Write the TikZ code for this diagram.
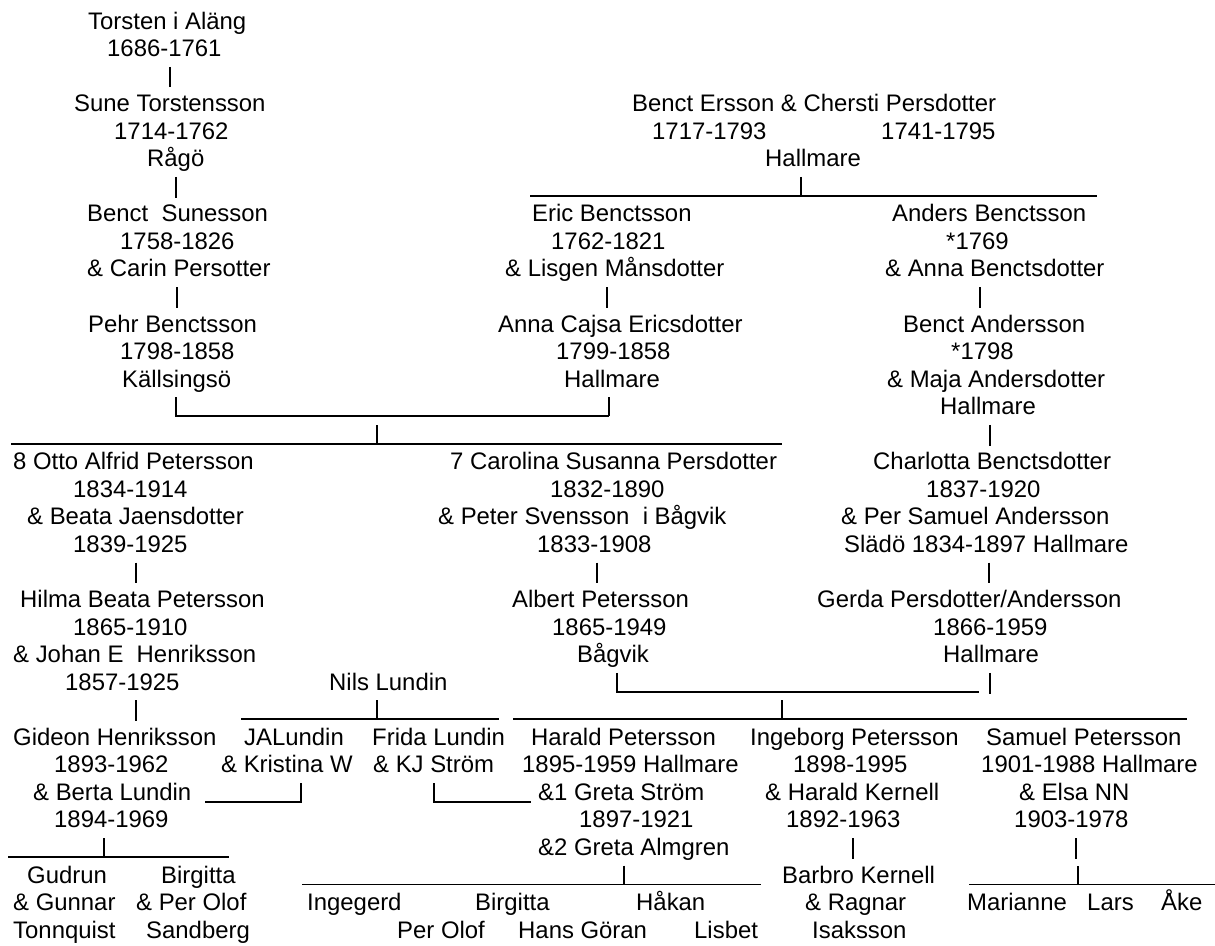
\documentclass[tikz,border=0pt]{standalone}
\usepackage{fontspec}
\setmainfont{Liberation Sans}

\begin{document}
\begin{tikzpicture}[
        x=1pt, y=-27.55pt,
        txt/.style={
            anchor=base west,
            inner sep=0pt,
            text height=17.5pt,
            text depth=5pt,
            font=\fontsize{23.9pt}{27.55pt}\selectfont
        },
        bar/.style={line width=1.8pt, shorten <=5pt, shorten >=6.5pt},
        link/.style={line width=1.8pt, shorten <=5pt},
        rule/.style={line width=1.8pt}
    ]
    \useasboundingbox[fill=white] (0,-0.0526) rectangle (1215,34.249);

    % Torsten line
    \node[txt] (torsten) at (88,1) {Torsten i Aläng};
    \node[txt] (torsten-yr) at (107,2) {1686-1761};
    \node[txt] (sune) at (74,4) {Sune Torstensson};
    \node[txt] (sune-yr) at (114,5) {1714-1762};
    \node[txt] (sune-pl) at (147,6) {Rågö};
    \node[txt] (bencts) at (87,8) {Benct~ Sunesson};
    \node[txt] (bencts-yr) at (120,9) {1758-1826};
    \node[txt] (carin) at (87,10) {\& Carin Persotter};
    \node[txt] (pehr) at (88,12) {Pehr Benctsson};
    \node[txt] (pehr-yr) at (120,13) {1798-1858};
    \node[txt] (pehr-pl) at (122,14) {Källsingsö};

    % Benct Ersson line
    \node[txt] (bencte) at (632,4) {Benct Ersson \& Chersti Persdotter};
    \node[txt] (bencte-yr) at (652,5) {1717-1793};
    \node[txt] (chersti-yr) at (881,5) {1741-1795};
    \node[txt] (bencte-pl) at (765,6) {Hallmare};
    \node[txt] (eric) at (532,8) {Eric Benctsson};
    \node[txt] (eric-yr) at (551,9) {1762-1821};
    \node[txt] (lisgen) at (505,10) {\& Lisgen Månsdotter};
    \node[txt] (cajsa) at (498,12) {Anna Cajsa Ericsdotter};
    \node[txt] (cajsa-yr) at (556,13) {1799-1858};
    \node[txt] (cajsa-pl) at (564,14) {Hallmare};
    \node[txt] (anders) at (892,8) {Anders Benctsson};
    \node[txt] (anders-yr) at (946,9) {*1769};
    \node[txt] (annab) at (885,10) {\& Anna Benctsdotter};
    \node[txt] (bencta) at (903,12) {Benct Andersson};
    \node[txt] (bencta-yr) at (951,13) {*1798};
    \node[txt] (maja) at (887,14) {\& Maja Andersdotter};
    \node[txt] (maja-pl) at (940,15) {Hallmare};

    % Row of Otto, Carolina, Charlotta
    \node[txt] (otto) at (13,17) {8 Otto Alfrid Petersson};
    \node[txt] (otto-yr) at (73,18) {1834-1914};
    \node[txt] (beata) at (27,19) {\& Beata Jaensdotter};
    \node[txt] (beata-yr) at (73,20) {1839-1925};
    \node[txt] (hilma) at (20,22) {Hilma Beata Petersson};
    \node[txt] (hilma-yr) at (73,23) {1865-1910};
    \node[txt] (johan) at (13,24) {\& Johan E~ Henriksson};
    \node[txt] (johan-yr) at (65,25) {1857-1925};
    \node[txt] (carolina) at (450,17) {7 Carolina Susanna Persdotter};
    \node[txt] (carolina-yr) at (550,18) {1832-1890};
    \node[txt] (peter) at (438,19) {\& Peter Svensson~ i Bågvik};
    \node[txt] (peter-yr) at (537,20) {1833-1908};
    \node[txt] (albert) at (512,22) {Albert Petersson};
    \node[txt] (albert-yr) at (552,23) {1865-1949};
    \node[txt] (albert-pl) at (577,24) {Bågvik};
    \node[txt] (charlotta) at (873,17) {Charlotta Benctsdotter};
    \node[txt] (charlotta-yr) at (926,18) {1837-1920};
    \node[txt] (persam) at (841,19) {\& Per Samuel Andersson};
    \node[txt] (persam-yr) at (844,20) {Slädö 1834-1897 Hallmare};
    \node[txt] (gerda) at (817,22) {Gerda Persdotter/Andersson};
    \node[txt] (gerda-yr) at (933,23) {1866-1959};
    \node[txt] (gerda-pl) at (943,24) {Hallmare};
    \node[txt] (nils) at (329,25) {Nils Lundin};

    % Row of Gideon .. Samuel
    \node[txt] (gideon) at (13,27) {Gideon Henriksson};
    \node[txt] (gideon-yr) at (54,28) {1893-1962};
    \node[txt] (berta) at (33,29) {\& Berta Lundin};
    \node[txt] (berta-yr) at (54,30) {1894-1969};
    \node[txt] (ja) at (244,27) {JALundin};
    \node[txt] (kristina) at (221,28) {\& Kristina W};
    \node[txt] (frida) at (372,27) {Frida Lundin};
    \node[txt] (kj) at (373,28) {\& KJ Ström};
    \node[txt] (harald) at (531,27) {Harald Petersson};
    \node[txt] (harald-yr) at (522,28) {1895-1959 Hallmare};
    \node[txt] (greta1) at (538,29) {\&1 Greta Ström};
    \node[txt] (greta1-yr) at (579,30) {1897-1921};
    \node[txt] (greta2) at (538,31) {\&2 Greta Almgren};
    \node[txt] (ingeborg) at (750,27) {Ingeborg Petersson};
    \node[txt] (ingeborg-yr) at (793,28) {1898-1995};
    \node[txt] (kernell) at (765,29) {\& Harald Kernell};
    \node[txt] (kernell-yr) at (786,30) {1892-1963};
    \node[txt] (samuel) at (986,27) {Samuel Petersson};
    \node[txt] (samuel-yr) at (981,28) {1901-1988 Hallmare};
    \node[txt] (elsa) at (1019,29) {\& Elsa NN};
    \node[txt] (elsa-yr) at (1014,30) {1903-1978};

    % Youngest row
    \node[txt] (gudrun) at (27,32) {Gudrun};
    \node[txt] (gunnar) at (13,33) {\& Gunnar};
    \node[txt] (tonnquist) at (13,34) {Tonnquist};
    \node[txt] (birgitta) at (161,32) {Birgitta};
    \node[txt] (perolof) at (136,33) {\& Per Olof};
    \node[txt] (sandberg) at (146,34) {Sandberg};
    \node[txt] (ingegerd) at (307,33) {Ingegerd};
    \node[txt] (birgitta2) at (475,33) {Birgitta};
    \node[txt] (hakan) at (636,33) {Håkan};
    \node[txt] (perolof2) at (397,34) {Per Olof};
    \node[txt] (hansgoran) at (518,34) {Hans Göran};
    \node[txt] (lisbet) at (694,34) {Lisbet};
    \node[txt] (barbro) at (782,32) {Barbro Kernell};
    \node[txt] (ragnar) at (805,33) {\& Ragnar};
    \node[txt] (isaksson) at (812,34) {Isaksson};
    \node[txt] (marianne) at (967,33) {Marianne};
    \node[txt] (lars) at (1087,33) {Lars};
    \node[txt] (ake) at (1161,33) {Åke};

    % Junctions
    \coordinate (kids-bencte) at (801,7.054);
    \coordinate (kids-bencte-l) at (530,7.054);
    \coordinate (kids-bencte-r) at (1097,7.054);
    \coordinate (wed-pehr) at (176,15.054);
    \coordinate (wed-cajsa) at (609,15.054);
    \coordinate (kids-pehr) at (377,16.054);
    \coordinate (kids-pehr-l) at (11,16.054);
    \coordinate (kids-pehr-r) at (782,16.054);
    \coordinate (wed-albert) at (617,25.054);
    \coordinate (wed-albert-r) at (979,25.054);
    \coordinate (wed-gerda) at (990,25.127);
    \coordinate (kids-nils) at (377,26.054);
    \coordinate (kids-nils-l) at (241,26.054);
    \coordinate (kids-nils-r) at (499,26.054);
    \coordinate (kids-albert) at (782,26.054);
    \coordinate (kids-albert-l) at (513,26.054);
    \coordinate (kids-albert-r) at (1187,26.054);
    \coordinate (wed-ja) at (301,29.054);
    \coordinate (wed-ja-l) at (205,29.054);
    \coordinate (wed-kj) at (434,29.054);
    \coordinate (wed-kj-r) at (531,29.054);
    \coordinate (kids-gideon) at (104,31.054);
    \coordinate (kids-gideon-l) at (8,31.054);
    \coordinate (kids-gideon-r) at (229,31.054);
    \coordinate (down-elsa) at (1076,31.127);
    \coordinate (kids-harald) at (624,32.054);
    \coordinate (kids-harald-l) at (302,32.054);
    \coordinate (kids-harald-r) at (761,32.054);
    \coordinate (kids-samuel) at (1078,32.054);
    \coordinate (kids-samuel-l) at (969,32.054);
    \coordinate (kids-samuel-r) at (1215,32.054);

    % Bars
    \draw[bar] (torsten-yr.south -| 170,0) -- (sune.north -| 170,0);
    \draw[bar] (sune-pl.south -| 176,0) -- (bencts.north -| 176,0);
    \draw[bar] (carin.south -| 177,0) -- (pehr.north -| 177,0);
    \draw[bar] (lisgen.south -| 607,0) -- (cajsa.north -| 607,0);
    \draw[bar] (annab.south -| 980,0) -- (bencta.north -| 980,0);
    \draw[bar] (maja-pl.south -| 990,0) -- (charlotta.north -| 990,0);
    \draw[bar] (beata-yr.south -| 136,0) -- (hilma.north -| 136,0);
    \draw[bar] (peter-yr.south -| 597,0) -- (albert.north -| 597,0);
    \draw[bar] (persam-yr.south -| 989,0) -- (gerda.north -| 989,0);
    \draw[bar] (johan-yr.south -| 136,0) -- (gideon.north -| 136,0);
    \draw[bar] (kernell-yr.south -| 853,0) -- (barbro.north -| 853,0);

    % Family lines
    \draw[link] (bencte-pl.south -| kids-bencte) -- (kids-bencte);
    \draw[rule] (kids-bencte-l) -- (kids-bencte-r);
    \draw[link] (pehr-pl.south -| wed-pehr) -- (wed-pehr) -- (wed-cajsa);
    \draw[link] (cajsa-pl.south -| wed-cajsa) -- (wed-cajsa);
    \draw[rule] (kids-pehr-l) -- (kids-pehr-r);
    \draw[rule] (kids-pehr) -- ++(0,-0.69);
    \draw[link] (albert-pl.south -| wed-albert) -- (wed-albert) -- (wed-albert-r);
    \draw[link] (gerda-pl.south -| wed-gerda) -- (wed-gerda);
    \draw[link] (nils.south -| kids-nils) -- (kids-nils);
    \draw[rule] (kids-nils-l) -- (kids-nils-r);
    \draw[rule] (kids-albert-l) -- (kids-albert-r);
    \draw[rule] (kids-albert) -- ++(0,-0.69);
    \draw[link] (kristina.south -| wed-ja) -- (wed-ja) -- (wed-ja-l);
    \draw[link] (kj.south -| wed-kj) -- (wed-kj) -- (wed-kj-r);
    \draw[link] (berta-yr.south -| kids-gideon) -- (kids-gideon);
    \draw[rule] (kids-gideon-l) -- (kids-gideon-r);
    \draw[link] (elsa-yr.south -| down-elsa) -- (down-elsa);
    \draw[link] (greta2.south -| kids-harald) -- (kids-harald);
    \draw[rule] (kids-harald-l) -- (kids-harald-r);
    \draw[rule] (kids-samuel) -- ++(0,-0.69);
    \draw[rule] (kids-samuel-l) -- (kids-samuel-r);

\end{tikzpicture}
\end{document}
